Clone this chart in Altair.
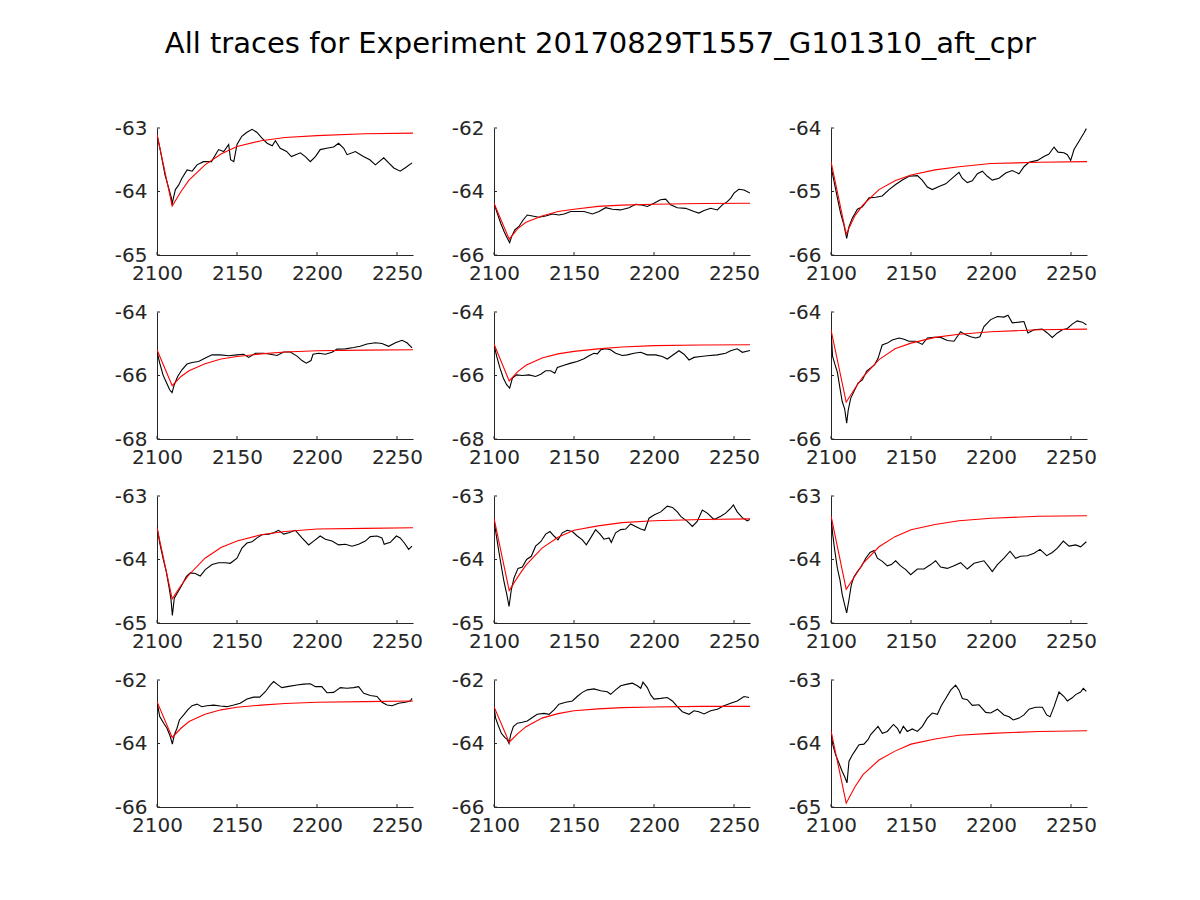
import altair as alt
import pandas as pd

TITLE = "All traces for Experiment 20170829T1557_G101310_aft_cpr"

x_ticks = [2100, 2150, 2200, 2250]
y_min = [-65, -66, -66, -68, -68, -66, -65, -65, -65, -66, -66, -65]
y_max = [-63, -62, -64, -64, -64, -64, -63, -63, -63, -62, -62, -63]
y_ticks = [
    [-65, -64, -63], [-66, -64, -62], [-66, -65, -64],
    [-68, -66, -64], [-68, -66, -64], [-66, -65, -64],
    [-65, -64, -63], [-65, -64, -63], [-65, -64, -63],
    [-66, -64, -62], [-66, -64, -62], [-65, -64, -63],
]

# recorded traces (time, potential)
trace_1 = [(2100, -63.1), (2102, -63.34), (2105, -63.74), (2107, -63.92), (2109, -64.1), (2109.4, -64.21),
           (2110, -64.13), (2111.5, -63.97), (2113.5, -63.9), (2115.6, -63.79), (2118.8, -63.66), (2122, -63.68),
           (2125, -63.58), (2129, -63.53), (2134, -63.53), (2138.5, -63.34), (2141.7, -63.37), (2144.8, -63.26),
           (2146, -63.5), (2148, -63.53), (2150, -63.26), (2153, -63.13), (2156, -63.07), (2159.4, -63.02),
           (2162.5, -63.07), (2165.6, -63.16), (2168.8, -63.24), (2172, -63.28), (2174, -63.2), (2177, -63.32),
           (2181, -63.37), (2184, -63.45), (2189.6, -63.39), (2192.7, -63.45), (2195.8, -63.53), (2199, -63.45),
           (2202, -63.34), (2206, -63.32), (2210.4, -63.3), (2213.5, -63.24), (2216.7, -63.32), (2218.8, -63.42),
           (2224, -63.37), (2229, -63.45), (2233, -63.5), (2236.5, -63.58), (2241.7, -63.47), (2244.8, -63.55),
           (2248, -63.63), (2252, -63.68), (2255, -63.63), (2259.4, -63.55)]
trace_2 = [(2100, -64.37), (2102, -64.68), (2104.2, -65.0), (2106.3, -65.26), (2108.3, -65.47), (2109.8, -65.61),
           (2111, -65.42), (2113, -65.21), (2115.6, -65.1), (2118.3, -64.89), (2120.8, -64.74), (2124, -64.77),
           (2128, -64.81), (2132.3, -64.77), (2136.5, -64.71), (2140.6, -64.74), (2143.8, -64.71), (2148, -64.63),
           (2152, -64.63), (2156.3, -64.63), (2161.5, -64.71), (2165.6, -64.63), (2169.8, -64.51), (2174, -64.56),
           (2179, -64.58), (2184.4, -64.51), (2188.5, -64.4), (2191.7, -64.42), (2195.8, -64.47), (2200, -64.37),
           (2204, -64.26), (2207.3, -64.24), (2210.4, -64.42), (2214.6, -64.51), (2219.8, -64.53), (2225, -64.63),
           (2228, -64.68), (2231.3, -64.6), (2235.4, -64.53), (2239.6, -64.58), (2242.7, -64.42), (2245.8, -64.32),
           (2248, -64.21), (2250, -64.05), (2253, -63.93), (2256.3, -63.95), (2260, -64.05)]
trace_3 = [(2100, -64.61), (2101.9, -64.84), (2104, -65.1), (2106, -65.34), (2108.1, -65.53), (2109.8, -65.74),
           (2111.3, -65.55), (2113.3, -65.42), (2116.5, -65.28), (2119.6, -65.24), (2123.8, -65.1), (2127.9, -65.09),
           (2132, -65.07), (2136.3, -64.97), (2140.4, -64.89), (2144.6, -64.82), (2148.75, -64.76), (2154, -64.75),
           (2157, -64.82), (2160.2, -64.93), (2163.3, -64.97), (2167.5, -64.92), (2171.7, -64.88), (2175.8, -64.79),
           (2180, -64.7), (2182, -64.79), (2185.2, -64.86), (2188.3, -64.83), (2191.5, -64.72), (2194.6, -64.68),
           (2197.7, -64.76), (2200.8, -64.82), (2205, -64.79), (2209.2, -64.71), (2213.3, -64.67), (2217.5, -64.72),
           (2220.6, -64.61), (2223.75, -64.54), (2229, -64.51), (2233.1, -64.45), (2236.25, -64.41), (2239.4, -64.3),
           (2241.9, -64.38), (2245.6, -64.39), (2247.7, -64.42), (2249.8, -64.51), (2251.9, -64.34), (2255, -64.21),
           (2258.1, -64.08), (2259.6, -64.01)]
trace_4 = [(2100, -65.24), (2101.7, -65.61), (2103.75, -65.98), (2105.8, -66.21), (2107.9, -66.45), (2109.4, -66.54),
           (2110.8, -66.29), (2112.9, -66.03), (2115.6, -65.82), (2118.75, -65.64), (2121.9, -65.59), (2126, -65.56),
           (2130.2, -65.45), (2134.4, -65.35), (2139.6, -65.35), (2144.8, -65.38), (2150, -65.35), (2154.2, -65.33),
           (2157.3, -65.43), (2161.5, -65.3), (2166.7, -65.3), (2170.8, -65.33), (2175, -65.37), (2179.2, -65.26),
           (2183.3, -65.26), (2187.5, -65.39), (2190.6, -65.53), (2193.3, -65.61), (2196.25, -65.53), (2197.5, -65.33),
           (2201, -65.3), (2205.2, -65.33), (2209.4, -65.27), (2212.5, -65.17), (2217.7, -65.16), (2222.9, -65.12),
           (2227, -65.08), (2231.25, -65.01), (2236.5, -64.97), (2240.6, -64.99), (2244.8, -65.08), (2249, -64.97),
           (2253.1, -64.89), (2256.25, -64.97), (2259.4, -65.13)]
trace_5 = [(2100, -65.03), (2101.7, -65.4), (2103.75, -65.77), (2105.8, -66.08), (2107.9, -66.29), (2109.8, -66.4),
           (2111.5, -66.08), (2114.2, -65.98), (2117.7, -66.0), (2121.9, -65.98), (2126, -66.03), (2129.2, -65.96),
           (2132.3, -65.85), (2135.4, -65.85), (2138, -65.93), (2139.6, -65.75), (2143.75, -65.68), (2148, -65.61),
           (2152, -65.56), (2156.25, -65.47), (2159.4, -65.38), (2162.5, -65.3), (2164.6, -65.32), (2166.7, -65.19),
           (2169.8, -65.16), (2172.9, -65.19), (2176, -65.3), (2180.2, -65.37), (2183.3, -65.35), (2187.5, -65.3),
           (2191.7, -65.27), (2195.8, -65.35), (2201, -65.35), (2205.2, -65.4), (2208.3, -65.48), (2212.5, -65.33),
           (2215.6, -65.22), (2218.75, -65.33), (2221.9, -65.51), (2225, -65.43), (2229.2, -65.4), (2233.3, -65.38),
           (2239.6, -65.35), (2244.8, -65.3), (2247.9, -65.22), (2252, -65.16), (2255.2, -65.27), (2260, -65.21)]
trace_6 = [(2100, -64.28), (2101, -64.7), (2102.5, -64.83), (2104, -64.95), (2105.6, -65.2), (2107, -65.41),
           (2108.5, -65.52), (2109.8, -65.75), (2110.8, -65.54), (2112.3, -65.36), (2114.4, -65.25), (2116.9, -65.12),
           (2119.6, -65.07), (2122.3, -64.93), (2124.8, -64.88), (2127.3, -64.83), (2129.4, -64.73), (2132, -64.52),
           (2135.2, -64.49), (2138.3, -64.44), (2142.5, -64.41), (2145.6, -64.43), (2148.75, -64.46), (2152.9, -64.46),
           (2157.1, -64.51), (2160.2, -64.41), (2164.4, -64.4), (2168.5, -64.4), (2172.7, -64.45), (2176.9, -64.46),
           (2181, -64.31), (2184.2, -64.36), (2187.3, -64.39), (2190.4, -64.41), (2193.1, -64.39), (2195.6, -64.23),
           (2199.8, -64.12), (2204, -64.07), (2208.1, -64.08), (2210.6, -64.05), (2213.3, -64.17), (2217.5, -64.16),
           (2220.6, -64.15), (2223.1, -64.33), (2226.9, -64.28), (2232.1, -64.27), (2235.2, -64.33), (2238.3, -64.4),
           (2241.5, -64.33), (2244.6, -64.28), (2247.7, -64.26), (2250.8, -64.19), (2253.9, -64.14), (2257.1, -64.16),
           (2259.6, -64.2)]
trace_7 = [(2100, -63.48), (2101.7, -63.74), (2103.75, -63.98), (2105.8, -64.19), (2107.5, -64.43), (2108.75, -64.63),
           (2109.6, -64.88), (2110.8, -64.61), (2112.9, -64.52), (2115.6, -64.4), (2118.3, -64.27), (2120.8, -64.21),
           (2124, -64.22), (2127, -64.26), (2130.2, -64.16), (2134.4, -64.08), (2138.5, -64.05), (2142.7, -64.05),
           (2145.8, -64.06), (2150, -63.98), (2153.1, -63.82), (2156.25, -63.74), (2159.4, -63.72), (2162.5, -63.66),
           (2165.6, -63.61), (2169.8, -63.6), (2172.9, -63.58), (2176, -63.54), (2179.2, -63.6), (2182.3, -63.58),
           (2186.5, -63.54), (2190.6, -63.66), (2194.8, -63.77), (2197.9, -63.71), (2202, -63.63), (2205.2, -63.68),
           (2209.4, -63.71), (2213.5, -63.77), (2217.7, -63.76), (2221.9, -63.79), (2226, -63.76), (2230.2, -63.71),
           (2233.3, -63.64), (2237.5, -63.63), (2240.6, -63.66), (2242, -63.76), (2245.8, -63.73), (2249.6, -63.63),
           (2252, -63.66), (2254.6, -63.74), (2257.3, -63.84), (2259.4, -63.79)]
trace_8 = [(2100, -63.38), (2101.25, -63.59), (2103, -63.87), (2104.6, -64.11), (2106.25, -64.35), (2108, -64.55),
           (2109.4, -64.74), (2110.8, -64.48), (2112.5, -64.29), (2115, -64.14), (2117.7, -64.12), (2120.4, -64.0),
           (2123.3, -63.95), (2126, -63.79), (2129.2, -63.72), (2132.3, -63.6), (2135, -63.56), (2137.5, -63.63),
           (2140, -63.69), (2142.7, -63.58), (2145.8, -63.54), (2149, -63.56), (2152, -63.63), (2155.2, -63.69),
           (2157.7, -63.77), (2160.4, -63.66), (2163.5, -63.53), (2166.25, -63.6), (2168.75, -63.68), (2171.9, -63.66),
           (2173.3, -63.73), (2176, -63.58), (2179.2, -63.53), (2182.3, -63.52), (2185.4, -63.44), (2188.5, -63.48),
           (2191.7, -63.52), (2194.2, -63.54), (2196.9, -63.35), (2200, -63.3), (2204.2, -63.25), (2208.3, -63.16),
           (2211.5, -63.18), (2214.6, -63.25), (2216.7, -63.32), (2220.8, -63.4), (2224, -63.48), (2227, -63.4),
           (2230.2, -63.22), (2233.3, -63.27), (2237.5, -63.37), (2241.7, -63.32), (2244.8, -63.27), (2248, -63.19),
           (2249.6, -63.14), (2252, -63.25), (2255.2, -63.34), (2258.3, -63.39), (2260, -63.37)]
trace_9 = [(2100, -63.3), (2101, -63.59), (2102.3, -63.85), (2104, -64.14), (2105.6, -64.32), (2107, -64.55),
           (2108.5, -64.71), (2109.8, -64.84), (2111.25, -64.63), (2112.7, -64.4), (2114.4, -64.27), (2116.5, -64.19),
           (2119, -64.11), (2121.7, -63.98), (2124.4, -63.89), (2126.9, -63.86), (2129, -63.98), (2132.1, -64.03),
           (2135.2, -64.1), (2137.7, -64.08), (2140.4, -64.02), (2143.5, -64.1), (2146.7, -64.16), (2149.8, -64.24),
           (2154, -64.15), (2158.1, -64.15), (2162.3, -64.08), (2165.4, -64.02), (2168.5, -64.12), (2172.7, -64.14),
           (2176.9, -64.1), (2181, -64.05), (2185.2, -64.15), (2189.4, -64.06), (2195.6, -64.02), (2198.75, -64.12),
           (2200.8, -64.19), (2204, -64.08), (2208.1, -63.98), (2211.9, -63.87), (2215.4, -63.98), (2218.5, -63.95),
           (2222.7, -63.94), (2226.9, -63.9), (2230.6, -63.84), (2234.8, -63.94), (2238.3, -63.89), (2241.5, -63.82),
           (2245.2, -63.71), (2248.75, -63.79), (2252.9, -63.77), (2256, -63.8), (2259.6, -63.72)]
trace_10 = [(2100, -62.68), (2101.7, -63.15), (2104.2, -63.36), (2106.25, -63.52), (2108.3, -63.78), (2109.6, -64.02),
            (2110.8, -63.73), (2112.5, -63.52), (2114, -63.26), (2116.7, -63.1), (2119.2, -62.94), (2121.9, -62.81),
            (2125, -62.76), (2128, -62.84), (2131.25, -62.81), (2135.4, -62.79), (2139.6, -62.82), (2143.75, -62.84),
            (2148, -62.79), (2152, -62.73), (2156.25, -62.6), (2160.4, -62.54), (2164.2, -62.54), (2167.7, -62.37),
            (2170.8, -62.16), (2172.9, -62.05), (2175, -62.13), (2178, -62.24), (2182.3, -62.2), (2187.5, -62.16),
            (2191.7, -62.13), (2195.8, -62.12), (2199, -62.21), (2203, -62.21), (2206.25, -62.4), (2210.4, -62.39),
            (2214.6, -62.24), (2218.75, -62.26), (2222.9, -62.24), (2226, -62.21), (2229.2, -62.42), (2233.3, -62.49),
            (2237.5, -62.52), (2240.6, -62.7), (2243.75, -62.79), (2246.9, -62.81), (2251, -62.73), (2255.2, -62.7),
            (2258.3, -62.66), (2259.4, -62.58)]
trace_11 = [(2100, -62.84), (2101, -63.2), (2102.5, -63.41), (2104.6, -63.68), (2106.7, -63.81), (2108.3, -63.88),
            (2109.4, -64.0), (2110.4, -63.73), (2112.1, -63.47), (2114.6, -63.36), (2117.7, -63.33), (2120.8, -63.29),
            (2124, -63.18), (2127, -63.08), (2131.25, -63.05), (2134.4, -63.08), (2137.5, -62.94), (2140.6, -62.76),
            (2144.8, -62.7), (2149, -62.66), (2152, -62.52), (2155.2, -62.39), (2158.3, -62.31), (2162.5, -62.28),
            (2166.7, -62.34), (2170.8, -62.37), (2172.9, -62.45), (2176, -62.31), (2179.2, -62.18), (2183.3, -62.13),
            (2186.5, -62.1), (2189.6, -62.18), (2191.7, -62.26), (2193.1, -62.07), (2195.8, -62.24), (2197.9, -62.47),
            (2200, -62.6), (2204.2, -62.58), (2208.3, -62.55), (2211.5, -62.66), (2214.6, -62.84), (2217.7, -63.0),
            (2221.9, -63.08), (2225, -62.97), (2228, -63.0), (2231.3, -63.07), (2235.4, -62.97), (2239.6, -62.92),
            (2243.75, -62.81), (2247.9, -62.73), (2252, -62.66), (2256.25, -62.52), (2259.4, -62.55)]
trace_12 = [(2100, -63.79), (2101, -64.01), (2102.9, -64.18), (2105, -64.31), (2107, -64.44), (2108.5, -64.52),
            (2110, -64.62), (2111.25, -64.28), (2113.3, -64.18), (2115.4, -64.1), (2117.5, -64.02), (2120.6, -64.01),
            (2123.1, -63.94), (2124.8, -63.86), (2127.3, -63.79), (2129.4, -63.73), (2132.1, -63.84), (2135.2, -63.81),
            (2139, -63.7), (2141.5, -63.76), (2143.1, -63.84), (2145.2, -63.73), (2147.7, -63.81), (2150.8, -63.77),
            (2154, -63.81), (2157.1, -63.73), (2160.2, -63.6), (2163.3, -63.52), (2166.5, -63.54), (2169, -63.4),
            (2171.7, -63.29), (2174.8, -63.16), (2177.9, -63.08), (2180, -63.16), (2182.1, -63.29), (2185.2, -63.31),
            (2188.3, -63.4), (2192.5, -63.39), (2196.7, -63.51), (2199.8, -63.52), (2204, -63.46), (2208.1, -63.55),
            (2211.25, -63.58), (2213.9, -63.63), (2217.5, -63.6), (2220.6, -63.55), (2223.75, -63.46), (2227.9, -63.43),
            (2232.1, -63.43), (2234.8, -63.55), (2236.9, -63.58), (2239.4, -63.42), (2242.5, -63.19), (2245.6, -63.26),
            (2247.7, -63.33), (2250.8, -63.28), (2252.9, -63.23), (2256, -63.19), (2257.7, -63.13), (2259.6, -63.18)]

# fitted curves, sampled at common times
fit_x = [2100, 2109.5, 2115, 2120, 2130, 2140, 2150, 2165, 2180, 2200, 2230, 2260]
fit_1 = [-63.1, -64.23, -64.0, -63.82, -63.58, -63.41, -63.29, -63.2, -63.15, -63.12, -63.09, -63.08]
fit_2 = [-64.37, -65.5, -65.16, -64.97, -64.77, -64.63, -64.56, -64.47, -64.43, -64.4, -64.38, -64.37]
fit_3 = [-64.53, -65.67, -65.38, -65.21, -64.97, -64.83, -64.74, -64.66, -64.61, -64.56, -64.54, -64.53]
fit_4 = [-65.19, -66.32, -66.03, -65.85, -65.63, -65.48, -65.4, -65.32, -65.26, -65.22, -65.2, -65.19]
fit_5 = [-65.01, -66.17, -65.87, -65.68, -65.45, -65.32, -65.24, -65.16, -65.1, -65.06, -65.04, -65.03]
fit_6 = [-64.28, -65.42, -65.2, -65.02, -64.75, -64.58, -64.49, -64.4, -64.35, -64.31, -64.28, -64.27]
fit_7 = [-63.5, -64.62, -64.41, -64.24, -63.98, -63.81, -63.71, -63.61, -63.56, -63.52, -63.51, -63.5]
fit_8 = [-63.35, -64.49, -64.27, -64.09, -63.82, -63.65, -63.54, -63.47, -63.42, -63.39, -63.37, -63.36]
fit_9 = [-63.31, -64.47, -64.26, -64.06, -63.8, -63.64, -63.53, -63.45, -63.39, -63.35, -63.32, -63.31]
fit_10 = [-62.68, -63.81, -63.52, -63.31, -63.08, -62.94, -62.86, -62.79, -62.74, -62.7, -62.68, -62.66]
fit_11 = [-62.84, -63.96, -63.68, -63.47, -63.2, -63.06, -62.97, -62.91, -62.87, -62.85, -62.83, -62.83]
fit_12 = [-63.8, -64.94, -64.68, -64.49, -64.26, -64.12, -64.01, -63.93, -63.87, -63.84, -63.81, -63.8]

traces = [trace_1, trace_2, trace_3, trace_4, trace_5, trace_6,
          trace_7, trace_8, trace_9, trace_10, trace_11, trace_12]
fits = [fit_1, fit_2, fit_3, fit_4, fit_5, fit_6,
        fit_7, fit_8, fit_9, fit_10, fit_11, fit_12]

W, H = 256, 127
AX = "#262626"
LABEL = "'' + datum.value"


def panel(i):
    xs = alt.Scale(domain=[2100, 2260], nice=False, zero=False)
    ys = alt.Scale(domain=[y_min[i], y_max[i]], nice=False, zero=False)
    xaxis = alt.Axis(values=x_ticks, labelExpr=LABEL, title=None, ticks=False, grid=False,
                     labelFlush=False, labelOverlap=False, labelPadding=8)
    yaxis = alt.Axis(values=y_ticks[i], labelExpr=LABEL, title=None, ticks=False, grid=False,
                     labelFlush=False, labelOverlap=False, labelPadding=10)

    tdf = pd.DataFrame(traces[i], columns=["x", "y"])
    tdf["k"] = range(len(tdf))
    fdf = pd.DataFrame({"x": fit_x, "y": fits[i]})
    fdf["k"] = range(len(fdf))

    black = alt.Chart(tdf).mark_line(color="black", strokeWidth=1.1, clip=True).encode(
        x=alt.X("x:Q", scale=xs, axis=xaxis),
        y=alt.Y("y:Q", scale=ys, axis=yaxis),
        order="k:Q",
    )
    red = alt.Chart(fdf).mark_line(color="#ff0000", strokeWidth=1.1, clip=True).encode(
        x=alt.X("x:Q", scale=xs, axis=xaxis),
        y=alt.Y("y:Q", scale=ys, axis=yaxis),
        order="k:Q",
    )
    xt = alt.Chart(pd.DataFrame({"x": x_ticks})).mark_rule(color=AX, strokeWidth=1).encode(
        x=alt.X("x:Q", scale=xs, axis=xaxis),
        y=alt.value(H), y2=alt.value(H - 3),
    )
    yt = alt.Chart(pd.DataFrame({"y": y_ticks[i]})).mark_rule(color=AX, strokeWidth=1).encode(
        y=alt.Y("y:Q", scale=ys, axis=yaxis),
        x=alt.value(0), x2=alt.value(3),
    )
    return alt.layer(black, red, xt, yt).properties(width=W, height=H)


chart = alt.concat(
    *[panel(i) for i in range(12)],
    columns=3,
    spacing={"row": 57, "column": 81},
    bounds="flush",
).properties(
    title=alt.TitleParams(
        text=TITLE, fontSize=29, font="DejaVu Sans", fontWeight="normal",
        color="black", anchor="middle", dx=-5, offset=59,
    ),
    padding={"left": 106, "top": 22, "right": 5, "bottom": 5},
    background="white",
).configure_view(stroke=None).configure_axis(
    domainColor=AX, labelColor=AX, labelFont="DejaVu Sans", labelFontSize=20,
    domainWidth=1,
)

chart.save("out.html", embed_options={"renderer": "svg", "actions": False})
